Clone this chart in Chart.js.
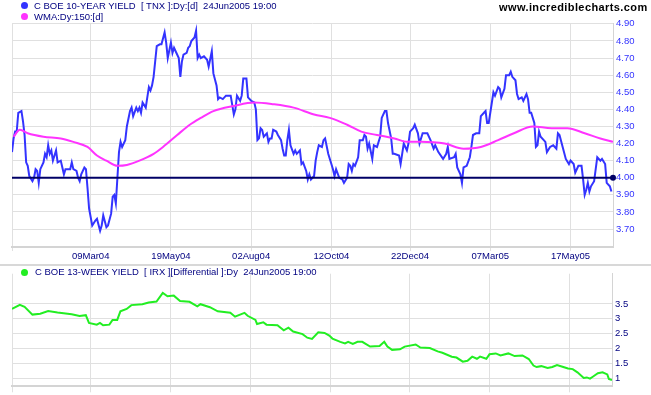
<!DOCTYPE html>
<html>
<head>
<meta charset="utf-8">
<script src="https://cdn.jsdelivr.net/npm/chart.js@4.4.0/dist/chart.umd.min.js"></script>
<style>
  body { margin: 0; background: #ffffff; }
  #wrap { position: relative; width: 651px; height: 395px; overflow: hidden; background: #fff; }
  canvas { position: absolute; left: 0; }
  .leg { position: absolute; font: 9.5px Arial, "Liberation Sans", sans-serif; color: #000080; white-space: pre; line-height: 10px; }
  .dot { position: absolute; width: 7px; height: 7px; border-radius: 50%; }
  #site { position: absolute; left: 499px; top: 1px; font: bold 11px Arial, "Liberation Sans", sans-serif; color: #000; letter-spacing: 0.4px; }
  #sep { position: absolute; left: 0; top: 264px; width: 651px; height: 2px; background: #d8d8d8; }
</style>
</head>
<body>
<div id="wrap">
  <canvas id="topChart" width="651" height="265" style="top:0"></canvas>
  <canvas id="bottomChart" width="651" height="130" style="top:265px"></canvas>
  <div id="sep"></div>
  <div class="dot" style="left:21px;top:2px;background:#3333ff"></div>
  <div class="leg" style="left:34px;top:1px">C BOE 10-YEAR YIELD  [ TNX ]:Dy:[d]  24Jun2005 19:00</div>
  <div class="dot" style="left:21px;top:13px;background:#ff33ff"></div>
  <div class="leg" style="left:34px;top:12px">WMA:Dy:150:[d]</div>
  <div id="site">www.incrediblecharts.com</div>
  <div class="dot" style="left:21px;top:269px;background:#22ee22"></div>
  <div class="leg" style="left:35px;top:267px">C BOE 13-WEEK YIELD  [ IRX ][Differential ]:Dy  24Jun2005 19:00</div>
</div>
<script>
//COLORS
var blue = "#3333ff";
var magenta = "#ff33ff";
var navy = "#000080";
var green = "#22ee22";
var grid = "#e0e0e0";

//DATA (x = trading day from start of window)
var tickDays = [0, 50, 101, 152, 203, 253, 304, 355];
var tickLabels = ["", "09Mar04", "19May04", "02Aug04", "12Oct04", "22Dec04", "07Mar05", "17May05"];
var lastDay = 382;

var topTicks = [3.7, 3.8, 3.9, 4.0, 4.1, 4.2, 4.3, 4.4, 4.5, 4.6, 4.7, 4.8, 4.9];
var bottomTicks = [1, 1.5, 2, 2.5, 3, 3.5];

// 10 year yield (TNX)
var tnxDays = [0,1,2,3,4,6,7,8,9,10,11,13,14,15,16,17,18,20,21,22,23,24,25,26,27,28,29,31,32,33,34,37,38,39,41,42,43,44,46,47,48,49,51,53,54,56,57,58,60,61,63,64,65,66,67,68,69,70,72,73,75,76,77,79,80,81,82,83,85,86,87,88,89,90,92,94,95,97,98,99,101,102,103,104,106,107,108,109,111,112,113,114,115,116,117,118,119,120,122,124,125,127,128,130,131,132,134,136,138,139,141,142,143,145,146,147,149,150,152,154,155,156,157,158,159,160,162,163,164,165,166,168,169,171,172,173,174,175,176,177,179,180,181,183,184,185,187,188,189,190,192,193,194,195,197,198,199,201,203,204,205,206,208,210,211,213,214,215,216,217,218,220,221,223,224,225,226,227,229,230,232,234,235,237,238,239,241,242,243,246,247,248,249,251,252,253,255,256,258,259,261,264,266,268,269,271,274,276,277,278,281,282,283,285,286,287,289,291,292,293,295,297,298,300,301,302,303,305,306,307,309,310,311,313,314,316,317,318,320,321,322,324,325,327,328,329,330,332,333,334,335,336,338,339,340,342,344,346,347,348,350,352,354,355,357,358,360,362,363,364,365,366,367,368,370,372,374,375,377,378,380,381];
var tnxYield = [4.15,4.23,4.27,4.27,4.38,4.39,4.33,4.25,4.09,4.07,4.01,3.98,4.00,4.05,4.04,3.97,4.05,4.09,4.14,4.12,4.19,4.14,4.16,4.10,4.13,4.16,4.09,4.10,4.06,4.02,4.05,4.05,4.09,4.05,4.04,4.00,3.98,4.02,4.06,4.05,3.94,3.82,3.72,3.75,3.76,3.69,3.72,3.78,3.71,3.72,3.79,3.89,3.90,3.85,4.00,4.15,4.21,4.18,4.22,4.30,4.39,4.41,4.36,4.41,4.39,4.41,4.38,4.44,4.41,4.47,4.53,4.51,4.54,4.59,4.77,4.78,4.78,4.85,4.79,4.70,4.79,4.73,4.76,4.74,4.70,4.59,4.68,4.72,4.73,4.76,4.77,4.80,4.81,4.82,4.86,4.70,4.72,4.70,4.71,4.69,4.65,4.74,4.61,4.54,4.46,4.47,4.46,4.48,4.48,4.48,4.37,4.40,4.48,4.45,4.48,4.58,4.58,4.47,4.45,4.44,4.40,4.22,4.23,4.29,4.28,4.24,4.26,4.21,4.23,4.23,4.28,4.27,4.25,4.22,4.17,4.13,4.13,4.22,4.28,4.19,4.14,4.16,4.14,4.16,4.08,4.09,4.04,3.99,4.02,3.99,4.01,4.10,4.15,4.19,4.18,4.22,4.23,4.14,4.08,4.05,4.01,4.05,4.00,3.99,3.97,4.00,4.08,4.07,4.04,4.08,4.07,4.12,4.22,4.22,4.25,4.24,4.17,4.20,4.11,4.19,4.18,4.24,4.35,4.39,4.39,4.32,4.23,4.14,4.14,4.13,4.08,4.14,4.20,4.16,4.20,4.27,4.29,4.31,4.26,4.20,4.26,4.26,4.22,4.17,4.19,4.15,4.11,4.14,4.18,4.11,4.12,4.14,4.06,4.02,3.97,4.06,4.07,4.12,4.18,4.25,4.26,4.26,4.36,4.38,4.39,4.32,4.32,4.44,4.50,4.48,4.53,4.52,4.47,4.52,4.60,4.60,4.62,4.59,4.57,4.49,4.46,4.47,4.45,4.49,4.46,4.38,4.38,4.32,4.18,4.19,4.27,4.24,4.22,4.21,4.15,4.18,4.19,4.17,4.26,4.25,4.18,4.11,4.08,4.10,4.08,4.03,4.07,4.07,3.99,3.90,3.93,3.97,3.92,3.95,3.98,4.12,4.10,4.11,4.08,3.97,3.95,3.92];

// 150 day weighted moving average
var wmaDays = [1,5,10,20,31,39,48,54,60,67,73,81,90,96,105,113,120,128,141,154,166,179,192,202,213,222,232,243,251,260,275,287,298,309,319,331,343,353,364,374,382];
var wmaVals = [4.24,4.28,4.26,4.24,4.23,4.21,4.18,4.13,4.10,4.07,4.075,4.10,4.14,4.18,4.25,4.31,4.35,4.39,4.42,4.44,4.43,4.41,4.37,4.35,4.31,4.27,4.25,4.23,4.21,4.21,4.20,4.17,4.18,4.22,4.26,4.30,4.29,4.29,4.26,4.23,4.21];

var levelLine = 4.00;

// 13 week yield (IRX)
var irxDays = [0,5,8,13,18,23,29,38,43,47,49,54,56,58,62,64,67,69,73,76,83,87,92,96,99,103,107,113,118,120,126,131,139,142,148,150,155,156,160,162,169,173,176,179,185,188,191,195,199,202,204,209,212,214,217,220,223,228,234,237,239,242,247,250,257,260,266,271,274,280,283,287,290,293,296,298,302,304,308,311,316,320,325,329,332,334,337,341,344,347,351,354,357,360,364,366,368,370,373,376,379,380,382];
var irxYield = [3.33,3.47,3.40,3.14,3.17,3.26,3.21,3.15,3.09,3.12,2.86,2.80,2.86,2.78,2.80,2.96,2.96,3.25,3.33,3.46,3.49,3.55,3.58,3.87,3.76,3.78,3.60,3.57,3.42,3.49,3.39,3.25,3.20,3.07,3.20,3.10,2.96,2.82,2.88,2.80,2.78,2.61,2.70,2.57,2.48,2.36,2.32,2.54,2.52,2.43,2.33,2.22,2.17,2.22,2.15,2.22,2.22,2.06,2.08,2.22,2.06,1.95,1.97,2.06,2.13,2.03,2.01,1.90,1.85,1.72,1.69,1.55,1.58,1.72,1.65,1.72,1.65,1.80,1.83,1.76,1.83,1.74,1.76,1.64,1.42,1.37,1.40,1.34,1.37,1.44,1.37,1.32,1.30,1.19,1.00,1.02,0.98,1.05,1.16,1.19,1.12,0.97,0.93];

function pts(days, vals) {
  var out = [];
  for (var i = 0; i < days.length; i++) {
    out.push({ x: days[i], y: vals[i] });
  }
  return out;
}

var font = { family: "Arial, 'Liberation Sans', sans-serif", size: 9.5 };

//TOP CHART
var topChart = new Chart(document.getElementById("topChart"), {
  type: "line",
  data: {
    datasets: [
      {
        data: [{ x: 0, y: levelLine }, { x: lastDay, y: levelLine }],
        borderColor: "#000066",
        backgroundColor: "#000066",
        borderWidth: 2,
        pointRadius: [0, 3],
        pointBorderWidth: 0,
        clip: false
      },
      {
        data: pts(wmaDays, wmaVals),
        borderColor: magenta,
        borderWidth: 2,
        pointRadius: 0,
        cubicInterpolationMode: "monotone"
      },
      {
        data: pts(tnxDays, tnxYield),
        borderColor: blue,
        borderWidth: 2,
        pointRadius: 0,
        tension: 0
      }
    ]
  },
  options: {
    responsive: false,
    animation: false,
    devicePixelRatio: 1,
    layout: { padding: { top: 23, left: 12, right: 0, bottom: 3 } },
    plugins: { legend: { display: false }, tooltip: { enabled: false } },
    scales: {
      x: {
        type: "linear",
        min: 0,
        max: lastDay,
        grid: { color: grid, tickLength: 4 },
        border: { color: "#d4d4d4", width: 2 },
        ticks: {
          font: font,
          color: navy,
          padding: 0,
          maxRotation: 0,
          autoSkip: false,
          callback: function (v) {
            var i = tickDays.indexOf(v);
            return i >= 0 ? tickLabels[i] : "";
          }
        },
        afterBuildTicks: function (s) {
          s.ticks = tickDays.map(function (d) { return { value: d }; });
        },
        afterFit: function (s) { s.height = 15; }
      },
      y: {
        position: "right",
        min: 3.595,
        max: 4.905,
        grid: { color: grid, drawTicks: false },
        border: { color: "#d4d4d4", width: 1 },
        ticks: {
          font: font,
          color: blue,
          padding: 3,
          callback: function (v) { return v.toFixed(2); }
        },
        afterBuildTicks: function (s) {
          s.ticks = topTicks.map(function (t) { return { value: t }; });
        },
        afterFit: function (s) { s.width = 38; }
      }
    }
  }
});

//BOTTOM CHART
var bottomChart = new Chart(document.getElementById("bottomChart"), {
  type: "line",
  data: {
    datasets: [
      {
        data: pts(irxDays, irxYield),
        borderColor: green,
        borderWidth: 2,
        pointRadius: 0,
        tension: 0
      }
    ]
  },
  options: {
    responsive: false,
    animation: false,
    devicePixelRatio: 1,
    layout: { padding: { top: 3, left: 12, right: 0, bottom: 0 } },
    plugins: { legend: { display: false }, tooltip: { enabled: false } },
    scales: {
      x: {
        type: "linear",
        min: 0,
        max: lastDay,
        grid: { color: grid, tickLength: 6 },
        border: { color: "#d4d4d4", width: 2 },
        ticks: { font: font, padding: 0, callback: function () { return ""; } },
        afterBuildTicks: function (s) {
          s.ticks = tickDays.map(function (d) { return { value: d }; });
        },
        afterFit: function (s) { s.height = 8; }
      },
      y: {
        position: "right",
        min: 0.72,
        max: 4.52,
        grid: { color: grid, drawTicks: false },
        border: { color: "#d4d4d4", width: 1 },
        ticks: {
          font: font,
          color: navy,
          padding: 3,
          callback: function (v) { return String(v); }
        },
        afterBuildTicks: function (s) {
          s.ticks = bottomTicks.map(function (t) { return { value: t }; });
        },
        afterFit: function (s) { s.width = 39; }
      }
    }
  }
});
</script>
</body>
</html>
